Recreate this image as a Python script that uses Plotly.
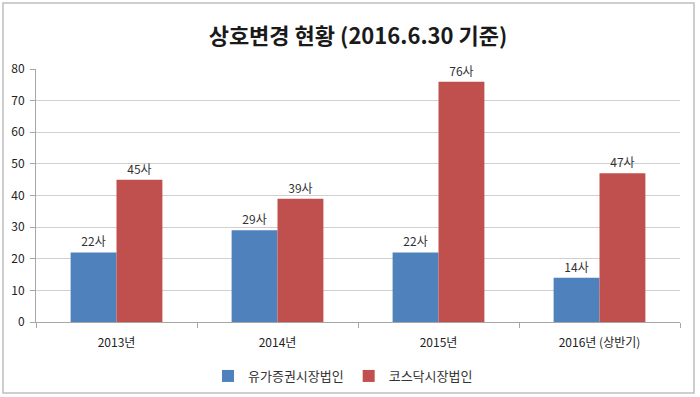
import plotly.graph_objects as go

categories = ["2013년", "2014년", "2015년", "2016년 (상반기)"]
series_names = ["유가증권시장법인", "코스닥시장법인"]
kospi = [22, 29, 22, 14]
kosdaq = [45, 39, 76, 47]
title_text = "상호변경 현황 (2016.6.30 기준)"

FONT = "Noto Sans CJK KR"
colors = ["#4F81BD", "#C0504D"]

fig = go.Figure()
for name, vals, col in zip(series_names, [kospi, kosdaq], colors):
    fig.add_trace(go.Bar(
        x=categories, y=vals, name=name, marker=dict(color=col, line=dict(width=0)),
        texttemplate="%{y}사", textposition="outside", cliponaxis=False,
        textfont=dict(family=FONT, size=12, color="#333333"),
    ))

L, R, T, B = 36, 20, 69, 75
W, H = 700, 397
pw, ph = W - L - R, H - T - B

def px_x(v):
    return (v - L) / pw

def px_y(v):
    return (H - B - v) / ph

fig.update_layout(
    width=W, height=H,
    margin=dict(l=L, r=R, t=T, b=B, autoexpand=False),
    paper_bgcolor="white", plot_bgcolor="white",
    barmode="group", bargap=0.43, bargroupgap=0,
    font=dict(family=FONT, size=12, color="#333333"),
    title=dict(text="<b>" + title_text + "</b>", x=0.5, xref="paper", xanchor="center",
               y=1 - 36 / H, yanchor="middle",
               font=dict(family=FONT, size=22, color="#1a1a1a")),
    showlegend=True,
    legend=dict(orientation="h", x=px_x(343), xanchor="center", y=px_y(376), yanchor="middle",
                font=dict(family=FONT, size=13, color="#333333"), itemwidth=30,
                traceorder="normal", bgcolor="rgba(0,0,0,0)"),
    xaxis=dict(type="category", showline=True, linecolor="#A6A6A6", linewidth=1,
               ticks="outside", tickson="boundaries", ticklen=5, tickcolor="#A6A6A6",
               ticklabelstandoff=10,
               tickfont=dict(family=FONT, size=12, color="#222222"), showgrid=False,
               automargin=False),
    yaxis=dict(range=[0, 80], dtick=10, showline=True, linecolor="#A6A6A6", linewidth=1,
               ticks="outside", ticklen=5, tickcolor="#A6A6A6", ticklabelstandoff=3,
               gridcolor="#D0D0D0", gridwidth=1, zeroline=False, automargin=False,
               tickfont=dict(family=FONT, size=12, color="#222222")),
    shapes=[dict(type="rect", xref="paper", yref="paper",
                 x0=px_x(3), x1=px_x(694), y0=px_y(393), y1=px_y(3),
                 line=dict(color="#BFBFBF", width=1.5), layer="below")],
)

fig.write_html("out.html", config={"displayModeBar": False},
               post_script="document.body.style.margin='0';")
